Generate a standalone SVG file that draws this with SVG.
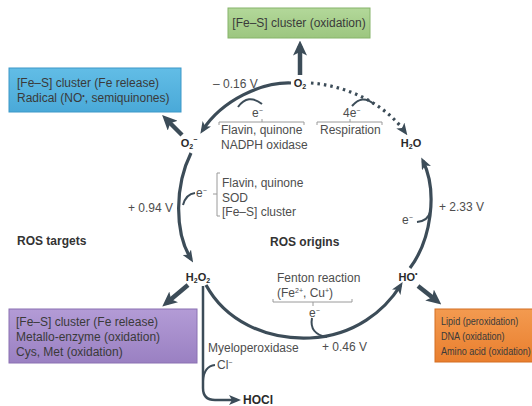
<svg xmlns="http://www.w3.org/2000/svg" width="532" height="406" viewBox="0 0 532 406">
<defs>
<style>
.t{font-family:"Liberation Sans",Arial,sans-serif;font-size:12px;fill:#4d4d4d}
.bt{font-family:"Liberation Sans",Arial,sans-serif;font-size:12px;fill:#3a3a3a}
.st{font-family:"Liberation Sans",Arial,sans-serif;font-size:11.5px;fill:#3a3a3a}
.lbl{font-family:"Liberation Sans",Arial,sans-serif;font-size:11px;font-weight:bold;fill:#2a2a2a}
.hd{font-family:"Liberation Sans",Arial,sans-serif;font-size:12px;font-weight:bold;fill:#333}
.sub{font-size:7px}
.arc{fill:none;stroke:#3c4c58;stroke-width:3.2}
.thick{fill:none;stroke:#3c4c58;stroke-width:4.5}
.thin{fill:none;stroke:#3c4c58;stroke-width:2}
.br{fill:none;stroke:#9a9a9a;stroke-width:1}
</style>
<marker id="ah" viewBox="0 0 12 10" refX="8" refY="5" markerWidth="12" markerHeight="10" markerUnits="userSpaceOnUse" orient="auto">
<path d="M0,0 L12,5 L0,10 L3,5 z" fill="#3c4c58"/>
</marker>
<marker id="ahb" viewBox="0 0 15 14" refX="9.5" refY="7" markerWidth="15" markerHeight="14" markerUnits="userSpaceOnUse" orient="auto">
<path d="M0,0 L15,7 L0,14 L3.5,7 z" fill="#3c4c58"/>
</marker>
<linearGradient id="gG" x1="0" y1="0" x2="0" y2="1"><stop offset="0" stop-color="#b3d89a"/><stop offset="1" stop-color="#9cc67f"/></linearGradient>
<linearGradient id="gB" x1="0" y1="0" x2="0" y2="1"><stop offset="0" stop-color="#62bde6"/><stop offset="1" stop-color="#4aa9d8"/></linearGradient>
<linearGradient id="gP" x1="0" y1="0" x2="0" y2="1"><stop offset="0" stop-color="#b39bd6"/><stop offset="1" stop-color="#9a80c2"/></linearGradient>
<linearGradient id="gO" x1="0" y1="0" x2="0" y2="1"><stop offset="0" stop-color="#f39a50"/><stop offset="1" stop-color="#e97f2e"/></linearGradient>
</defs>
<rect width="532" height="406" fill="#ffffff"/>

<g id="connectors">
<path class="arc" d="M291,83 C262,82 222,100 202.5,130.5" marker-end="url(#ah)"/>
<path class="arc" d="M311,83 C348,86 385,104 405,132" stroke-dasharray="2.5 4" marker-end="url(#ah)"/>
<path class="arc" d="M191,153 C175,185 174,232 191,259" marker-end="url(#ah)"/>
<path class="arc" d="M410,268 C431,240 438,192 423,161" marker-end="url(#ah)"/>
<path class="arc" d="M206,285 C225,320 265,340 310,338 C355,336 385,310 400.5,285.5" marker-end="url(#ah)"/>
<path class="thick" d="M300,75 L300,46" marker-end="url(#ahb)"/>
<path class="thick" d="M182,135 L166,119" marker-end="url(#ahb)"/>
<path class="thick" d="M188,285 L166.5,303" marker-end="url(#ahb)"/>
<path class="thick" d="M418,286 L437,301" marker-end="url(#ahb)"/>
<path class="arc" style="stroke-width:2.5" d="M203,286 L203,388 Q203,400 215,400 L237,400" marker-end="url(#ah)"/>
<path class="thin" d="M238,107 Q248,93 262,104"/>
<path class="thin" d="M352,106 Q362,94 374,104"/>
<path class="thin" d="M183,205 Q186,194 195,193"/>
<path class="thin" d="M417,222 Q428,221 430,212"/>
<path class="thin" d="M312,318 Q309,334 327,337"/>
<path class="thin" d="M203,381 Q204,366 215,365"/>
<path class="br" d="M219,125 L219,122 L304,122 L304,125 M262,122 L262,119"/>
<path class="br" d="M317,125 L317,122 L382,122 L382,125 M350,122 L350,119"/>
<path class="br" d="M220,173 L217,173 L217,216 L220,216 M217,194 L213,194"/>
<path class="br" d="M273,299 L273,302 L352,302 L352,299 M313,302 L313,306"/>
</g>

<g id="n-green">
<rect x="228" y="8" width="142" height="30" fill="url(#gG)" stroke="#86b46a" stroke-width="1"/>
<text class="bt" x="299" y="27" text-anchor="middle">[Fe–S] cluster (oxidation)</text>
</g>
<g id="n-blue">
<rect x="9" y="68" width="172" height="44" fill="url(#gB)" stroke="#3c98c8" stroke-width="1"/>
<text class="bt" x="17" y="87">[Fe–S] cluster (Fe release)</text>
<text class="bt" x="17" y="102">Radical (NO<tspan dy="-4" class="sub">•</tspan><tspan dy="4">, semiquinones)</tspan></text>
</g>
<g id="n-purple">
<rect x="9" y="309" width="188" height="54" fill="url(#gP)" stroke="#8a70b2" stroke-width="1"/>
<text class="bt" x="16" y="326">[Fe–S] cluster (Fe release)</text>
<text class="bt" x="16" y="341">Metallo-enzyme (oxidation)</text>
<text class="bt" x="16" y="356">Cys, Met (oxidation)</text>
</g>
<g id="n-orange">
<rect x="435" y="309" width="100" height="53" fill="url(#gO)" stroke="#d46f22" stroke-width="1"/>
<g transform="translate(441,0) scale(0.79,1)">
<text class="st" x="0" y="325">Lipid (peroxidation)</text>
<text class="st" x="0" y="340">DNA (oxidation)</text>
<text class="st" x="0" y="355">Amino acid (oxidation)</text>
</g>
</g>

<g id="n-O2"><text class="lbl" x="300" y="87" text-anchor="middle">O<tspan class="sub" dy="2">2</tspan></text></g>
<g id="n-O2m"><text class="lbl" x="189" y="147" text-anchor="middle">O<tspan class="sub" dy="2">2</tspan><tspan class="sub" dy="-7">−</tspan></text></g>
<g id="n-H2O"><text class="lbl" x="411" y="147" text-anchor="middle">H<tspan class="sub" dy="2">2</tspan><tspan dy="-2">O</tspan></text></g>
<g id="n-H2O2"><text class="lbl" x="198" y="281" text-anchor="middle">H<tspan class="sub" dy="2">2</tspan><tspan dy="-2">O</tspan><tspan class="sub" dy="2">2</tspan></text></g>
<g id="n-HO"><text class="lbl" x="408" y="281" text-anchor="middle">HO<tspan class="sub" dy="-5">•</tspan></text></g>
<g id="n-HOCl"><text class="lbl" x="243" y="404" style="font-size:12px">HOCl</text></g>

<g id="labels">
<text class="t" x="213" y="88">– 0.16 V</text>
<text class="t" x="252" y="117">e<tspan class="sub" dy="-4">−</tspan></text>
<text class="t" x="343" y="117">4e<tspan class="sub" dy="-4">−</tspan></text>
<text class="t" x="221" y="134">Flavin, quinone</text>
<text class="t" x="221" y="149">NADPH oxidase</text>
<text class="t" x="320" y="134">Respiration</text>
<text class="t" x="196" y="197">e<tspan class="sub" dy="-4">−</tspan></text>
<text class="t" x="222" y="187">Flavin, quinone</text>
<text class="t" x="222" y="202">SOD</text>
<text class="t" x="222" y="216">[Fe–S] cluster</text>
<text class="t" x="128" y="212">+ 0.94 V</text>
<text class="t" x="439" y="211">+ 2.33 V</text>
<text class="t" x="402" y="224">e<tspan class="sub" dy="-4">−</tspan></text>
<text class="hd" x="17" y="245">ROS targets</text>
<text class="hd" x="270" y="246">ROS origins</text>
<text class="t" x="277" y="282">Fenton reaction</text>
<text class="t" x="277" y="297">(Fe<tspan class="sub" dy="-4">2+</tspan><tspan dy="4">, Cu</tspan><tspan class="sub" dy="-4">+</tspan><tspan dy="4">)</tspan></text>
<text class="t" x="309" y="317">e<tspan class="sub" dy="-4">−</tspan></text>
<text class="t" x="208" y="352">Myeloperoxidase</text>
<text class="t" x="322" y="351">+ 0.46 V</text>
<text class="t" x="217" y="369">Cl<tspan class="sub" dy="-4">−</tspan></text>
</g>
</svg>
